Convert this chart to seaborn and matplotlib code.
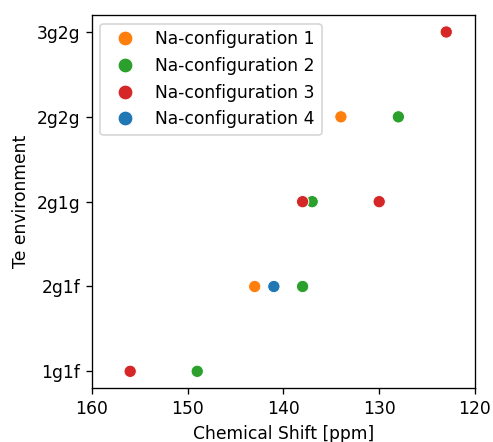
import matplotlib
matplotlib.use("Agg")
import matplotlib.pyplot as plt
import pandas as pd
import seaborn as sns

# Te environments, bottom to top
environments = ["1g1f", "2g1f", "2g1g", "2g2g", "3g2g"]

configs = ["Na-configuration 1", "Na-configuration 2",
           "Na-configuration 3", "Na-configuration 4"]

# chemical shifts (ppm) per configuration
conf1_env = ["2g1f", "2g2g"]
conf1_shift = [143, 134]

conf2_env = ["1g1f", "2g1f", "2g1g", "2g2g"]
conf2_shift = [149, 138, 137, 128]

conf3_env = ["1g1f", "2g1g", "2g1g", "3g2g"]
conf3_shift = [156, 138, 130, 123]

conf4_env = ["2g1f"]
conf4_shift = [141]

rows = []
for name, envs, shifts in zip(configs,
                              [conf1_env, conf2_env, conf3_env, conf4_env],
                              [conf1_shift, conf2_shift, conf3_shift, conf4_shift]):
    for e, s in zip(envs, shifts):
        rows.append({"config": name, "env": e, "shift": s})
df = pd.DataFrame(rows)
df["env"] = pd.Categorical(df["env"], categories=environments, ordered=True)

palette = {
    "Na-configuration 1": "#ff7f0e",
    "Na-configuration 2": "#2ca02c",
    "Na-configuration 3": "#d62728",
    "Na-configuration 4": "#1f77b4",
}

plt.rcParams["font.size"] = 10.3

fig, ax = plt.subplots(figsize=(494 / 120, 442 / 120), dpi=120)
fig.subplots_adjust(left=0.186, right=0.9615, top=0.966, bottom=0.1215)

sns.scatterplot(data=df, x="shift", y="env", hue="config",
                hue_order=configs, palette=palette, s=55, ax=ax)

ax.set_xlim(160, 120)
ax.set_ylim(-0.2, 4.2)  # 1g1f at the bottom
ax.set_xticks([160, 150, 140, 130, 120])
ax.set_xlabel("Chemical Shift [ppm]")
ax.set_ylabel("Te environment")
ax.legend(loc="upper left", markerscale=1.2)

fig.savefig("out.png", dpi=120)
